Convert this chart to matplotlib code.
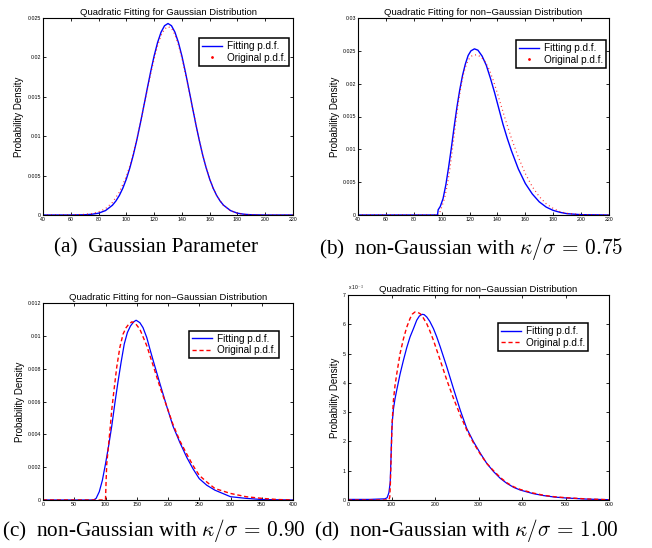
import numpy as np
import matplotlib
matplotlib.use("Agg")
from matplotlib import pyplot as plt
from matplotlib.lines import Line2D

plt.rcParams['font.family'] = ['Liberation Sans', 'DejaVu Sans']
plt.rcParams['mathtext.fontset'] = 'cm'

# (a) Gaussian parameter
a_fit_x = [40, 60, 70, 75, 80, 85, 90, 92.5, 95, 97.5, 100, 102.5, 105, 107.5, 110, 112.5,
           115, 117.5, 120, 122.5, 125, 127.5, 130, 132.5, 135, 137.5, 140, 142.5, 145,
           147.5, 150, 152.5, 155, 157.5, 160, 162.5, 165, 167.5, 170, 175, 180, 185, 190,
           200, 220]
a_fit_y = [0, 0, 0.00003, 0.00009, 0.00023, 0.00056, 0.00124, 0.00178, 0.00249, 0.00341,
           0.00456, 0.00596, 0.0076, 0.00948, 0.01155, 0.01375, 0.01599, 0.01817, 0.02018,
           0.02189, 0.0232, 0.02402, 0.0243, 0.02402, 0.0232, 0.02189, 0.02018, 0.01817,
           0.01599, 0.01375, 0.01155, 0.00948, 0.0076, 0.00596, 0.00456, 0.00341, 0.00249,
           0.00178, 0.00124, 0.00056, 0.00023, 0.00009, 0.00003, 0, 0]
a_org_x = [40, 60, 70, 75, 80, 85, 90, 95, 100, 102.5, 105, 107.5, 110, 112.5, 115, 117.5,
           120, 122.5, 125, 127.5, 130, 132.5, 135, 137.5, 140, 142.5, 145, 147.5, 150,
           152.5, 155, 157.5, 160, 162.5, 165, 167.5, 170, 175, 180, 185, 190, 200, 220]
a_org_y = [0, 0, 0.00008, 0.00018, 0.0004, 0.0008, 0.0016, 0.0029, 0.0049, 0.0062, 0.0078,
           0.0096, 0.0116, 0.0137, 0.0158, 0.0179, 0.0198, 0.0215, 0.0228, 0.0236, 0.0239,
           0.0237, 0.0229, 0.0216, 0.0199, 0.018, 0.0159, 0.0137, 0.0116, 0.0095, 0.0076,
           0.006, 0.0046, 0.0034, 0.0025, 0.0018, 0.0012, 0.00055, 0.00022, 0.00008,
           0.00003, 0, 0]

# (b) kappa/sigma = 0.75
b_fit_x = [40, 97, 97.5, 99, 101, 103, 105, 107, 109, 111, 113, 115, 117, 119, 121, 123.5,
           126, 129, 132, 135, 138, 141, 144, 147, 150, 155, 160, 165, 170, 175, 180, 185,
           190, 200, 220]
b_fit_y = [0, 0, 0.0008, 0.0013, 0.0025, 0.0046, 0.0073, 0.0103, 0.0135, 0.0165, 0.0191,
           0.0213, 0.023, 0.0243, 0.025, 0.0253, 0.0251, 0.0242, 0.0228, 0.0208, 0.0186,
           0.0162, 0.0138, 0.0117, 0.0098, 0.007, 0.0048, 0.0032, 0.002, 0.0012, 0.0007,
           0.0004, 0.0002, 0.00005, 0]
b_org_x = [40, 98, 100, 102, 104, 106, 108, 110, 112, 114, 116, 118, 120, 122, 125, 128,
           131, 134, 137, 140, 145, 150, 155, 160, 165, 170, 175, 180, 185, 190, 200, 220]
b_org_y = [0, 0, 0.0012, 0.0025, 0.0045, 0.0072, 0.0105, 0.014, 0.0172, 0.0198, 0.0218,
           0.0231, 0.0239, 0.0243, 0.0244, 0.0241, 0.0234, 0.0222, 0.0205, 0.0185, 0.015,
           0.0117, 0.0088, 0.0063, 0.0043, 0.0028, 0.0017, 0.001, 0.0005, 0.00025, 0.00005, 0]

# (c) kappa/sigma = 0.90
c_fit_x = [0, 81, 85, 90, 95, 100, 105, 110, 115, 120, 125, 130, 135, 140, 145, 149, 155,
           160, 166, 171, 177, 187, 198, 208, 219, 230, 240, 250, 262, 275, 300, 325, 350, 400]
c_fit_y = [0, 0, 0.0001, 0.0005, 0.0012, 0.0022, 0.0033, 0.0045, 0.0059, 0.0072, 0.0084,
           0.0095, 0.0102, 0.0106, 0.01085, 0.01095, 0.0108, 0.0105, 0.0099, 0.0092, 0.0084,
           0.0071, 0.0057, 0.0045, 0.0035, 0.0026, 0.0019, 0.0013, 0.0009, 0.0006, 0.0002,
           0.0001, 0.00003, 0]
c_org_x = [0, 100, 101, 102, 105, 107.5, 110, 113, 118, 123, 128, 133, 137, 142, 147, 155,
           166, 177, 187, 198, 208, 219, 230, 240, 250, 262, 275, 300, 325, 350, 375, 400]
c_org_y = [0, 0, 0.0012, 0.0022, 0.0034, 0.0044, 0.0055, 0.0065, 0.0081, 0.0093, 0.0101,
           0.0105, 0.0107, 0.01085, 0.0108, 0.0104, 0.0094, 0.0081, 0.0069, 0.0057, 0.0046,
           0.0036, 0.0028, 0.0021, 0.0015, 0.0011, 0.0007, 0.0004, 0.0002, 0.0001, 0.00003, 0]

# (d) kappa/sigma = 1.00, values in units of 1e-3
d_fit_x = [0, 50, 85, 90, 94, 97, 99, 100.5, 102, 104.4, 108, 112, 119.7, 127.4, 135,
           142.7, 150.4, 158, 164, 170, 175, 181, 188, 196.5, 204, 212, 227, 242.5, 258,
           273, 288.5, 304, 319, 334.6, 350, 365, 381, 396, 425, 450, 475, 500, 550, 600]
d_fit_y = [0.02, 0.02, 0.04, 0.08, 0.25, 0.6, 1.5, 2.3, 2.7, 3.1, 3.45, 3.75, 4.3, 4.77,
           5.2, 5.57, 5.85, 6.14, 6.28, 6.34, 6.33, 6.25, 6.1, 5.85, 5.57, 5.23, 4.55, 3.8,
           3.07, 2.44, 1.99, 1.6, 1.25, 0.97, 0.74, 0.57, 0.43, 0.34, 0.22, 0.15, 0.1, 0.07,
           0.03, 0.01]
d_org_x = [0, 94, 96, 97.5, 99, 101.3, 104.4, 108, 112, 119.7, 127.4, 135, 142.7, 148, 154,
           160, 166, 173, 181, 188, 196.5, 204, 212, 227, 242.5, 258, 273, 288.5, 304, 319,
           334.6, 350, 365, 381, 396, 425, 450, 475, 500, 550, 600]
d_org_y = [0, 0, 0.1, 0.6, 1.4, 2.6, 3.4, 3.9, 4.3, 5.0, 5.5, 5.9, 6.2, 6.35, 6.42, 6.41,
           6.36, 6.22, 6.02, 5.78, 5.45, 5.12, 4.77, 4.1, 3.47, 2.9, 2.39, 1.95, 1.57, 1.25,
           1.0, 0.77, 0.59, 0.45, 0.36, 0.24, 0.16, 0.11, 0.08, 0.035, 0.01]

titles = ['Quadratic Fitting for Gaussian Distribution',
          'Quadratic Fitting for non\u2212Gaussian Distribution',
          'Quadratic Fitting for non\u2212Gaussian Distribution',
          'Quadratic Fitting for non\u2212Gaussian Distribution']
captions = ['(a)  Gaussian Parameter',
            r'(b)  non-Gaussian with $\kappa/\sigma\,=\,0.75$',
            r'(c)  non-Gaussian with $\kappa/\sigma\,=\,0.90$',
            r'(d)  non-Gaussian with $\kappa/\sigma\,=\,1.00$']

W, H = 652, 548
fig = plt.figure(figsize=(W / 100, H / 100), dpi=100)


def px_axes(l, r, t, b):
    return fig.add_axes([l / W, (H - b) / H, (r - l) / W, (b - t) / H])


def style(ax, xlim, xticks, ylim, yticks, ylabels, title, labelx):
    ax.set_xlim(xlim)
    ax.set_ylim(ylim)
    ax.set_xticks(xticks)
    ax.set_yticks(yticks)
    ax.set_yticklabels(ylabels)
    ax.tick_params(direction='in', length=2.5, width=0.6, labelsize=3.8, pad=1.5,
                   top=True, right=True)
    for s in ax.spines.values():
        s.set_linewidth(0.8)
    ax.set_title(title, fontsize=6.8, pad=2.5)
    ax.set_ylabel('Probability Density', fontsize=7)
    ax.yaxis.set_label_coords(labelx, 0.5)


def legend(ax, handles, anchor):
    leg = ax.legend(handles=handles, labels=['Fitting p.d.f.', 'Original p.d.f.'],
                    loc='upper right', bbox_to_anchor=anchor, fontsize=7.2,
                    fancybox=False, framealpha=1, edgecolor='black', borderpad=0.3,
                    labelspacing=0.15, handlelength=2.0, handletextpad=0.5,
                    borderaxespad=0)
    leg.get_frame().set_linewidth(1.1)


blue_h = Line2D([], [], color='blue', lw=1.0)
dot_h = Line2D([], [], color='red', marker='.', markersize=2, linestyle='none')
dash_h = Line2D([], [], color='red', lw=1.0, dashes=(3, 2))

# (a)
ax = px_axes(43, 293, 18, 215)
ax.plot(a_fit_x, a_fit_y, color='blue', lw=1.0)
ax.plot(a_org_x, a_org_y, color='red', lw=0.9, dashes=(0.8, 2.4), alpha=0.8)
style(ax, (40, 220), range(40, 221, 20), (0, 0.025),
      [0, 0.005, 0.01, 0.015, 0.02, 0.025], ['0', '0.005', '0.01', '0.015', '0.02', '0.025'],
      titles[0], -0.075)
legend(ax, [blue_h, dot_h], (0.984, 0.898))

# (b)
ax = px_axes(358, 609, 18, 215)
ax.plot(b_fit_x, b_fit_y, color='blue', lw=1.0)
ax.plot(b_org_x, b_org_y, color='red', lw=0.9, dashes=(0.8, 2.4), alpha=0.8)
style(ax, (40, 220), range(40, 221, 20), (0, 0.03),
      [0, 0.005, 0.01, 0.015, 0.02, 0.025, 0.03],
      ['0', '0.005', '0.01', '0.015', '0.02', '0.025', '0.03'], titles[1], -0.072)
legend(ax, [blue_h, dot_h], (0.988, 0.888))

# (c)
ax = px_axes(43, 293, 303, 500)
ax.plot(c_fit_x, c_fit_y, color='blue', lw=0.9)
ax.plot(c_org_x, c_org_y, color='red', lw=1.0, dashes=(3, 2))
style(ax, (0, 400), range(0, 401, 50), (0, 0.012),
      [0, 0.002, 0.004, 0.006, 0.008, 0.01, 0.012],
      ['0', '0.002', '0.004', '0.006', '0.008', '0.01', '0.012'], titles[2], -0.072)
legend(ax, [blue_h, dash_h], (0.944, 0.858))

# (d)
ax = px_axes(348, 609, 295, 500)
ax.plot(d_fit_x, d_fit_y, color='blue', lw=0.9)
ax.plot(d_org_x, d_org_y, color='red', lw=1.0, dashes=(3, 2))
style(ax, (0, 600), range(0, 601, 100), (0, 7), range(0, 8),
      [str(v) for v in range(0, 8)], titles[3], -0.032)
ax.text(0.0, 1.012, r'x 10$^{-3}$', transform=ax.transAxes, fontsize=3.5,
        ha='left', va='bottom')
legend(ax, [blue_h, dash_h], (0.92, 0.863))

cap_pos = [(156, 248), (471, 248), (154, 530), (466, 530)]
for (cx, cy), cap in zip(cap_pos, captions):
    fig.text(cx / W, (H - cy) / H, cap, ha='center', va='center', fontsize=15.3,
             family='Liberation Serif')

fig.savefig('out.png', dpi=100)
